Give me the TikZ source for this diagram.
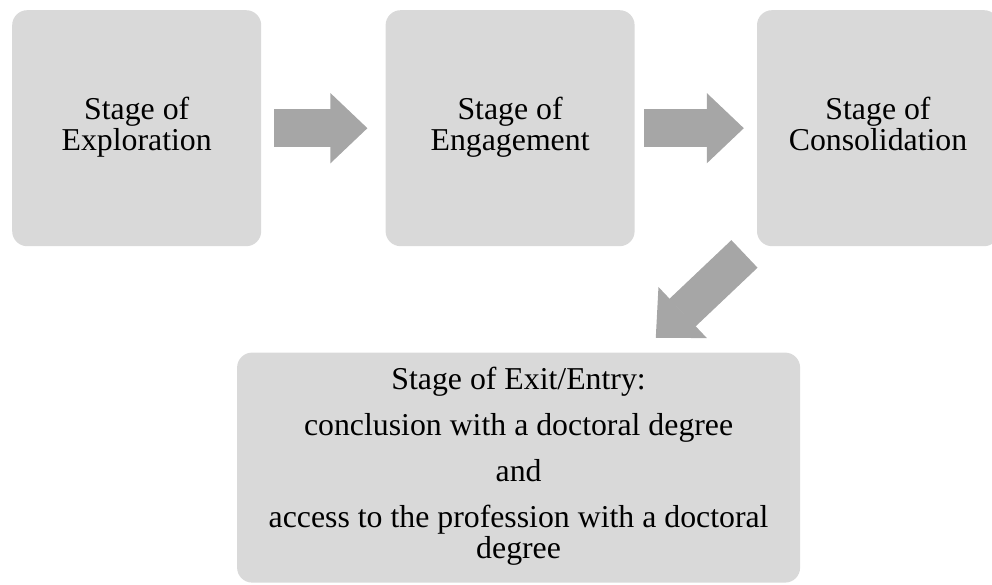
\documentclass[tikz,border=0pt]{standalone}
\usepackage{fontspec}
\setmainfont{Liberation Serif}
\usetikzlibrary{positioning,arrows.meta}
\definecolor{stagegray}{RGB}{217,217,217}
\definecolor{arrowgray}{RGB}{166,166,166}

\begin{document}
\begin{tikzpicture}[x=1pt, y=1pt,
    every node/.style={align=center, font=\fontsize{31.8}{31}\selectfont},
    stagebox/.style={fill=stagegray, rounded corners=15pt, inner sep=0pt, minimum height=236pt,
      execute at begin node={\rule{0pt}{31pt}}, execute at end node={\strut}},
    blockarrow/.style={arrowgray, line width=38pt, -{Triangle[length=37pt, width=70pt, line width=1.5pt]}}]
        \useasboundingbox (0,0) rectangle (992,-585);
        \node[stagebox, minimum width=249pt, anchor=north west] (explore) at (12,-10) {Stage of\\Exploration};
        \node[stagebox, minimum width=249pt, right=124pt of explore] (engage) {Stage of\\Engagement};
        \node[stagebox, minimum width=242pt, right=122pt of engage] (consol) {Stage of\\Consolidation};
        \node[stagebox, minimum width=563pt, minimum height=230pt, below=106pt of engage, xshift=8.5pt] (exit) {Stage of Exit/Entry:\\[15pt]conclusion with a doctoral degree\\[15pt]and\\[15pt]access to the profession with a doctoral\\degree};
        \draw[blockarrow, shorten <=13pt, shorten >=18pt] (explore) -- (engage);
        \draw[blockarrow, shorten <=9pt, shorten >=13pt] (engage) -- (consol);
        \draw[blockarrow, shorten <=17pt, shorten >=21pt] (consol) -- (exit);
      \end{tikzpicture}
\end{document}
